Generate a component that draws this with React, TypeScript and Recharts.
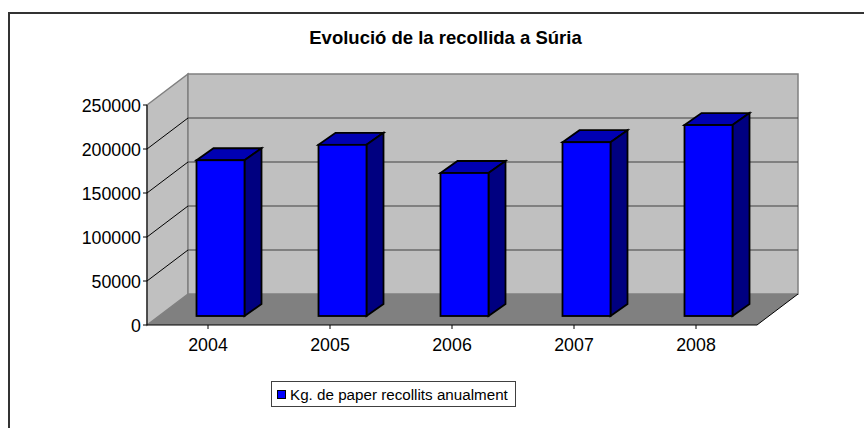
import React from 'react';
import { BarChart, Bar, XAxis, YAxis, Legend, usePlotArea } from 'recharts';

const years = ['2004', '2005', '2006', '2007', '2008'];
const kilos = [177000, 194500, 162500, 197500, 217000];
const yTicks = [0, 50000, 100000, 150000, 200000, 250000];
const seriesName = 'Kg. de paper recollits anualment';
const chartTitle = 'Evolució de la recollida a Súria';
const data = years.map((year, i) => ({ year, kilos: kilos[i] }));

const FONT = '"Liberation Sans", Arial, sans-serif';
const WALL_DX = 41;
const WALL_DY = 31;
const BAR_DX = 17;
const BAR_DY = 12;
const BAR_SHIFT_X = 12.5;
const BAR_SHIFT_Y = 9;

function Walls() {
  const p = usePlotArea();
  if (!p) return null;
  const l = p.x, t = p.y, r = p.x + p.width, b = p.y + p.height;
  const yOf = (v: number) => b - (v / 250000) * p.height;
  return (
    <g>
      <polygon points={`${l},${t} ${l + WALL_DX},${t - WALL_DY} ${l + WALL_DX},${b - WALL_DY} ${l},${b}`} fill="#c0c0c0" stroke="#808080" strokeWidth={1.5} />
      <rect x={l + WALL_DX} y={t - WALL_DY} width={p.width} height={p.height} fill="#c0c0c0" stroke="#808080" strokeWidth={1.5} />
      <polygon points={`${l},${b} ${l + WALL_DX},${b - WALL_DY} ${r + WALL_DX},${b - WALL_DY} ${r},${b}`} fill="#808080" />
      <line x1={r} y1={b} x2={r + WALL_DX} y2={b - WALL_DY} stroke="#000" strokeWidth={1} />
      {yTicks.slice(1, -1).map((v) => (
        <g key={v}>
          <line x1={l} y1={yOf(v)} x2={l + WALL_DX} y2={yOf(v) - WALL_DY} stroke="#000" strokeWidth={1} />
          <line x1={l + WALL_DX} y1={yOf(v) - WALL_DY} x2={r + WALL_DX} y2={yOf(v) - WALL_DY} stroke="#404040" strokeWidth={1} />
        </g>
      ))}
    </g>
  );
}

function Bar3D(props: any) {
  const { x, y, width, height } = props;
  const l = x + BAR_SHIFT_X;
  const t = y - BAR_SHIFT_Y;
  const r = l + width;
  const b = t + height;
  return (
    <g stroke="#000" strokeWidth={1.8} strokeLinejoin="miter">
      <polygon points={`${l},${t} ${l + BAR_DX},${t - BAR_DY} ${r + BAR_DX},${t - BAR_DY} ${r},${t}`} fill="#0000b3" />
      <polygon points={`${r},${t} ${r + BAR_DX},${t - BAR_DY} ${r + BAR_DX},${b - BAR_DY} ${r},${b}`} fill="#000080" />
      <rect x={l} y={t} width={width} height={height} fill="#0000ff" />
    </g>
  );
}

function LegendBox() {
  return (
    <div style={{ width: 245, height: 26, boxSizing: 'border-box', border: '1px solid #404040', background: '#fff', display: 'flex', alignItems: 'center', fontFamily: FONT, fontSize: 15.2, color: '#000', whiteSpace: 'nowrap' }}>
      <span style={{ width: 9, height: 9, boxSizing: 'border-box', background: '#0000ff', border: '1.5px solid #000', marginLeft: 5, marginRight: 4 }} />
      {seriesName}
    </div>
  );
}

export default function App() {
  return (
    <div style={{ position: 'absolute', left: 0, top: 0, width: 864, height: 428, overflow: 'hidden', background: '#fff' }}>
      <div style={{ position: 'absolute', left: 8, top: 12, width: 900, height: 500, boxSizing: 'border-box', border: '2px solid #333' }} />
      <div style={{ position: 'absolute', left: 0, top: 0 }}>
        <BarChart width={864} height={428} data={data} margin={{ top: 105, right: 107, bottom: 47, left: 67 }} barCategoryGap={0}>
          <Walls />
          <XAxis dataKey="year" height={30} tickSize={4} tickMargin={9} stroke="#000" tick={{ fill: '#000', fontFamily: FONT, fontSize: 17.8 }} interval={0} />
          <YAxis width={80} domain={[0, 250000]} ticks={yTicks} tickSize={4} tickMargin={2} stroke="#000" tick={{ fill: '#000', fontFamily: FONT, fontSize: 17.8, dy: 1 }} interval={0} />
          <Bar dataKey="kilos" name={seriesName} barSize={48} shape={<Bar3D />} isAnimationActive={false} />
          <Legend content={<LegendBox />} layout="horizontal" wrapperStyle={{ left: 271, top: 381, width: 245, bottom: 'auto' }} />
          <text x={445.5} y={44} textAnchor="middle" fontFamily={FONT} fontWeight="bold" fontSize={18.5} fill="#000">{chartTitle}</text>
        </BarChart>
      </div>
    </div>
  );
}
